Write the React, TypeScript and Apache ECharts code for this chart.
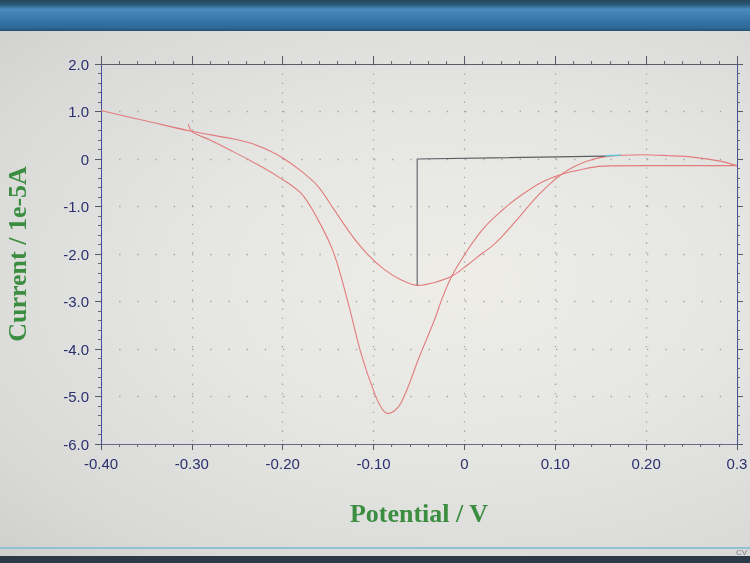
import React, { useEffect, useRef } from "react";
import * as echarts from "echarts";

// Curve A (shallow peak), potential in V, current in 1e-5 A
const potentialA = [-0.40, -0.35, -0.302, -0.254, -0.235, -0.215, -0.199, -0.180, -0.161, -0.144, -0.125, -0.106, -0.088, -0.070, -0.051, -0.033, -0.014, 0.004, 0.020, 0.030, 0.041, 0.055, 0.077, 0.092, 0.107, 0.120, 0.133, 0.152, 0.175, 0.196, 0.225, 0.251, 0.280, 0.300];
const currentA = [1.02, 0.80, 0.59, 0.42, 0.33, 0.18, 0.01, -0.25, -0.58, -1.05, -1.58, -2.02, -2.33, -2.54, -2.66, -2.60, -2.47, -2.22, -1.98, -1.84, -1.64, -1.34, -0.85, -0.56, -0.32, -0.17, -0.06, 0.04, 0.08, 0.09, 0.07, 0.04, -0.04, -0.14];

// Curve B (deep peak)
const potentialB = [-0.304, -0.301, -0.296, -0.280, -0.254, -0.235, -0.206, -0.180, -0.162, -0.144, -0.128, -0.114, -0.099, -0.090, -0.084, -0.077, -0.070, -0.060, -0.051, -0.033, -0.025, -0.014, 0.004, 0.022, 0.041, 0.059, 0.085, 0.107, 0.122, 0.152, 0.200, 0.250, 0.300];
const currentB = [0.74, 0.60, 0.53, 0.40, 0.15, -0.04, -0.36, -0.72, -1.25, -1.97, -3.03, -4.08, -4.93, -5.28, -5.36, -5.30, -5.14, -4.70, -4.23, -3.39, -2.96, -2.47, -1.90, -1.44, -1.09, -0.81, -0.49, -0.32, -0.25, -0.15, -0.14, -0.14, -0.14];

// Peak baseline marker
const baselineX = [-0.052, -0.052, 0.155];
const baselineY = [-2.66, 0.0, 0.06];
const cursorX = [0.155, 0.172];
const cursorY = [0.07, 0.08];

const xTicks = { min: -0.4, max: 0.3, interval: 0.1 };
const yTicks = { min: -6, max: 2, interval: 1 };

const zip = (xs: number[], ys: number[]) => xs.map((x, i) => [x, ys[i]]);

export default function App() {
  const ref = useRef<HTMLDivElement>(null);
  useEffect(() => {
    if (!ref.current) return;
    const chart = echarts.init(ref.current, undefined, { renderer: "svg" });
    const labelColor = "#2b2f6e";
    const xFmt = (v: number) => {
      if (Math.abs(v) < 1e-9) return "0";
      if (Math.abs(v - xTicks.max) < 1e-9) return v.toFixed(1);
      return v.toFixed(2);
    };
    const yFmt = (v: number) => (Math.abs(v) < 1e-9 ? "0" : v.toFixed(1));
    const nameStyle = {
      fontFamily: "Liberation Serif, Times New Roman, serif",
      fontWeight: "bold" as const,
      fontSize: 26,
      color: "#3b8d40",
    };
    const axisBase = (lineColor: string) => ({
      axisLine: { show: true, onZero: false, lineStyle: { color: lineColor, width: 1 } },
      axisTick: { show: true, inside: false, length: 6, lineStyle: { color: "#555a66" } },
      minorTick: { show: true, splitNumber: 5, length: 3, lineStyle: { color: "#666a77" } },
    });
    chart.setOption({
      animation: false,
      backgroundColor: "transparent",
      grid: { left: 101, right: 13, top: 64, bottom: 119, containLabel: false, outerBoundsMode: "none" },
      graphic: [
        {
          type: "rect",
          shape: { x: 0, y: 0, width: 750, height: 31 },
          style: {
            fill: new echarts.graphic.LinearGradient(0, 0, 0, 1, [
              { offset: 0, color: "#24465c" },
              { offset: 0.15, color: "#2c5a78" },
              { offset: 0.3, color: "#4a8cbf" },
              { offset: 0.6, color: "#3a78ab" },
              { offset: 0.9, color: "#2d6898" },
              { offset: 1, color: "#23506f" },
            ]),
          },
          z: 100,
        },
        {
          type: "rect",
          shape: { x: 0, y: 547, width: 750, height: 2 },
          style: { fill: "#8fc3d3" },
          z: 100,
        },
        {
          type: "rect",
          shape: { x: 0, y: 556, width: 750, height: 7 },
          style: { fill: "#2c3a48" },
          z: 100,
        },
        {
          type: "text",
          x: 736,
          y: 548,
          style: { text: "CV", fontSize: 8, fill: "#7a7f84", fontFamily: "Arial, sans-serif" },
          z: 100,
        },
      ],
      xAxis: [
        {
          type: "value",
          position: "bottom",
          min: xTicks.min,
          max: xTicks.max,
          interval: xTicks.interval,
          name: "Potential / V",
          nameLocation: "middle",
          nameGap: 56,
          nameTextStyle: nameStyle,
          ...axisBase("#676b88"),
          axisLabel: {
            show: true,
            margin: 12,
            formatter: xFmt,
            color: labelColor,
            fontSize: 15,
            fontFamily: "Liberation Sans, Arial, sans-serif",
          },
          splitLine: { show: true, lineStyle: { color: "#a3a3a3", width: 1.3, type: [1.3, 8.1] } },
        },
        {
          type: "value",
          position: "top",
          min: xTicks.min,
          max: xTicks.max,
          interval: xTicks.interval,
          ...axisBase("#5a5d66"),
          axisTick: { show: true, inside: false, length: 8, lineStyle: { color: "#555a66" } },
          axisLabel: { show: false },
          splitLine: { show: false },
        },
      ],
      yAxis: [
        {
          type: "value",
          position: "left",
          min: yTicks.min,
          max: yTicks.max,
          interval: yTicks.interval,
          name: "Current / 1e-5A",
          nameLocation: "middle",
          nameGap: 71,
          nameRotate: 90,
          nameTextStyle: nameStyle,
          ...axisBase("#4a4f9a"),
          axisLabel: {
            show: true,
            margin: 12,
            formatter: yFmt,
            color: labelColor,
            fontSize: 15,
            fontFamily: "Liberation Sans, Arial, sans-serif",
          },
          splitLine: { show: true, lineStyle: { color: "#a3a3a3", width: 1.3, type: [1.3, 16.9] } },
        },
        {
          type: "value",
          position: "right",
          min: yTicks.min,
          max: yTicks.max,
          interval: yTicks.interval,
          ...axisBase("#4a4f9a"),
          axisLabel: { show: false },
          splitLine: { show: false },
        },
      ],
      series: [
        {
          type: "line",
          name: "A",
          data: zip(potentialA, currentA),
          showSymbol: false,
          smooth: 0.35,
          lineStyle: { color: "#e27c7c", width: 1.1 },
          z: 3,
        },
        {
          type: "line",
          name: "B",
          data: zip(potentialB, currentB),
          showSymbol: false,
          smooth: 0.35,
          lineStyle: { color: "#e27c7c", width: 1.1 },
          z: 3,
        },
        {
          type: "line",
          name: "baseline",
          data: zip(baselineX, baselineY),
          showSymbol: false,
          lineStyle: { color: "#5b5e63", width: 1.1 },
          z: 4,
        },
        {
          type: "line",
          name: "cursor",
          data: zip(cursorX, cursorY),
          showSymbol: false,
          lineStyle: { color: "#62c3d9", width: 1.5 },
          z: 5,
        },
      ],
    });
    return () => chart.dispose();
  }, []);
  return (
    <div
      style={{
        position: "fixed",
        left: 0,
        top: 0,
        width: 750,
        height: 563,
        background:
          "radial-gradient(ellipse at 62% 50%, #eeede8 0%, #e6e6e3 40%, #d9dad8 80%, #cfd0cd 100%)",
      }}
    >
      <div ref={ref} style={{ width: 750, height: 563 }} />
    </div>
  );
}
